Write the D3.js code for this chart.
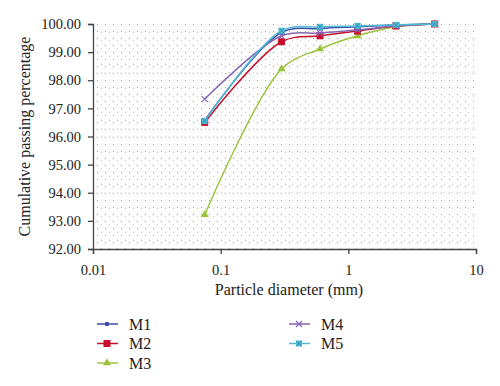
<!DOCTYPE html>
<html>
<head>
<meta charset="utf-8">
<script src="https://cdn.jsdelivr.net/npm/d3@7"></script>
<style>
  body { margin: 0; background: #fff; }
  text { font-family: "Liberation Serif", "DejaVu Serif", serif; fill: #222; }
</style>
</head>
<body>
<svg id="chart" width="500" height="386"></svg>
<script>
// sieve sizes (mm)
let sizes = [0.075, 0.3, 0.6, 1.18, 2.36, 4.75];
let seriesNames = ["M1", "M2", "M3", "M4", "M5"];
let m1 = [96.58, 99.70, 99.84, 99.90, 99.96, 100];
let m2 = [96.50, 99.37, 99.58, 99.75, 99.93, 100];
let m3 = [93.22, 98.40, 99.11, 99.58, 99.90, 100];
let m4 = [97.33, 99.58, 99.68, 99.79, 99.93, 100];
let m5 = [96.55, 99.76, 99.90, 99.93, 99.97, 100];
let colors = ["#3b4ba6", "#c8102e", "#9bc43c", "#8567b5", "#4fb9d6"];
let markers = ["circle", "square", "triangle", "cross", "star"];
let yTicks = d3.range(92, 100.01, 1);
let xTicks = [0.01, 0.1, 1, 10];

let svg = d3.select("#chart");
let margin = {left: 93, top: 24, right: 24, bottom: 137};
let width = 500 - margin.left - margin.right,
    height = 386 - margin.top - margin.bottom;

let x = d3.scaleLog().domain([0.01, 10]).range([0, width]);
let y = d3.scaleLinear().domain([92, 100]).range([height, 0]);

let g = svg.append("g")
    .attr("transform", "translate(" + margin.left + "," + margin.top + ")");

// dotted background grid
let hGrid = d3.range(92.25, 100.01, 0.25);
g.selectAll(".hgrid")
    .data(hGrid)
    .enter().append("line")
    .attr("class", "hgrid")
    .attr("x1", 4).attr("x2", width)
    .attr("y1", d => Math.round(y(d)) + 0.5).attr("y2", d => Math.round(y(d)) + 0.5)
    .attr("stroke", "#a0a0a0")
    .attr("stroke-width", 1)
    .attr("stroke-dasharray", "1,7");

let vGrid = d3.range(1, 48).map(i => Math.pow(10, -2 + i / 16));
g.selectAll(".vgrid")
    .data(vGrid)
    .enter().append("line")
    .attr("class", "vgrid")
    .attr("x1", d => Math.round(x(d)) + 0.5).attr("x2", d => Math.round(x(d)) + 0.5)
    .attr("y1", 0).attr("y2", height)
    .attr("stroke", "#c2c2c2")
    .attr("stroke-width", 0.8)
    .attr("stroke-dasharray", "1,7");

// axes
let yAxis = g.append("g")
    .call(d3.axisLeft(y).tickValues(yTicks).tickFormat(d3.format(".2f")).tickSize(5).tickPadding(7));
let xAxis = g.append("g")
    .attr("transform", "translate(0," + height + ")")
    .call(d3.axisBottom(x).tickValues(xTicks).tickFormat(d => String(d)).tickSize(5).tickPadding(11));

[yAxis, xAxis].forEach(a => {
    a.select(".domain").attr("stroke", "#444").attr("stroke-width", 1.3);
    a.selectAll(".tick line").attr("stroke", "#444").attr("stroke-width", 1.3);
    a.selectAll("text").style("font-size", "14.5px")
        .style("font-family", "'Liberation Serif', serif").attr("fill", "#222");
});

// axis titles
g.append("text")
    .attr("x", 196).attr("y", height + 46)
    .attr("text-anchor", "middle")
    .style("font-size", "16px")
    .text("Particle diameter (mm)");

g.append("text")
    .attr("transform", "translate(" + (-63) + "," + (height / 2) + ") rotate(-90)")
    .attr("text-anchor", "middle")
    .style("font-size", "16px")
    .text("Cumulative passing percentage");

// series
let allSeries = [m1, m2, m3, m4, m5].map((vals, i) => ({
    name: seriesNames[i],
    color: colors[i],
    marker: markers[i],
    points: vals.map((v, j) => ({size: sizes[j], value: v}))
}));

let line = d3.line()
    .x(d => x(d.size))
    .y(d => y(d.value))
    .curve(d3.curveCatmullRom.alpha(0.5));

function drawMarker(sel, type, color) {
    if (type == "circle") {
        sel.append("circle").attr("r", 2.3).attr("fill", color);
    } else if (type == "square") {
        sel.append("rect").attr("x", -3.5).attr("y", -3.5).attr("width", 7).attr("height", 7).attr("fill", color);
    } else if (type == "triangle") {
        sel.append("path").attr("d", d3.symbol(d3.symbolTriangle, 28)).attr("fill", color);
    } else if (type == "cross") {
        sel.append("path").attr("d", "M-3,-3L3,3M-3,3L3,-3").attr("stroke", color).attr("stroke-width", 1.2);
    } else if (type == "star") {
        sel.append("rect").attr("x", -3).attr("y", -3).attr("width", 6).attr("height", 6).attr("fill", color);
        sel.append("path").attr("d", "M-3,-3L3,3M-3,3L3,-3").attr("stroke", "#2a8fb0").attr("stroke-width", 0.8);
    }
}

// draw in order so that M5 sits on top like the original
let drawOrder = [2, 0, 1, 3, 4];
drawOrder.forEach(i => {
    let s = allSeries[i];
    g.append("path")
        .datum(s.points)
        .attr("fill", "none")
        .attr("stroke", s.color)
        .attr("stroke-width", 1.5)
        .attr("d", line);
    g.selectAll(".pt" + i)
        .data(s.points)
        .enter().append("g")
        .attr("class", "pt" + i)
        .attr("transform", d => "translate(" + x(d.size) + "," + y(d.value) + ")")
        .each(function () { drawMarker(d3.select(this), s.marker, s.color); });
});

// legend: two columns
let legend = svg.append("g");
allSeries.forEach((s, i) => {
    let col = i < 3 ? 0 : 1;
    let row = i < 3 ? i : i - 3;
    let lg = legend.append("g")
        .attr("transform", "translate(" + (97 + col * 192) + "," + (324 + row * 19.5) + ")");
    lg.append("line")
        .attr("x1", 0).attr("x2", 21)
        .attr("stroke", s.color).attr("stroke-width", 1.5);
    drawMarker(lg.append("g").attr("transform", "translate(10,0)"), s.marker, s.color);
    lg.append("text")
        .attr("x", 32).attr("y", 5.5)
        .style("font-size", "16px")
        .text(s.name);
});
</script>
</body>
</html>
